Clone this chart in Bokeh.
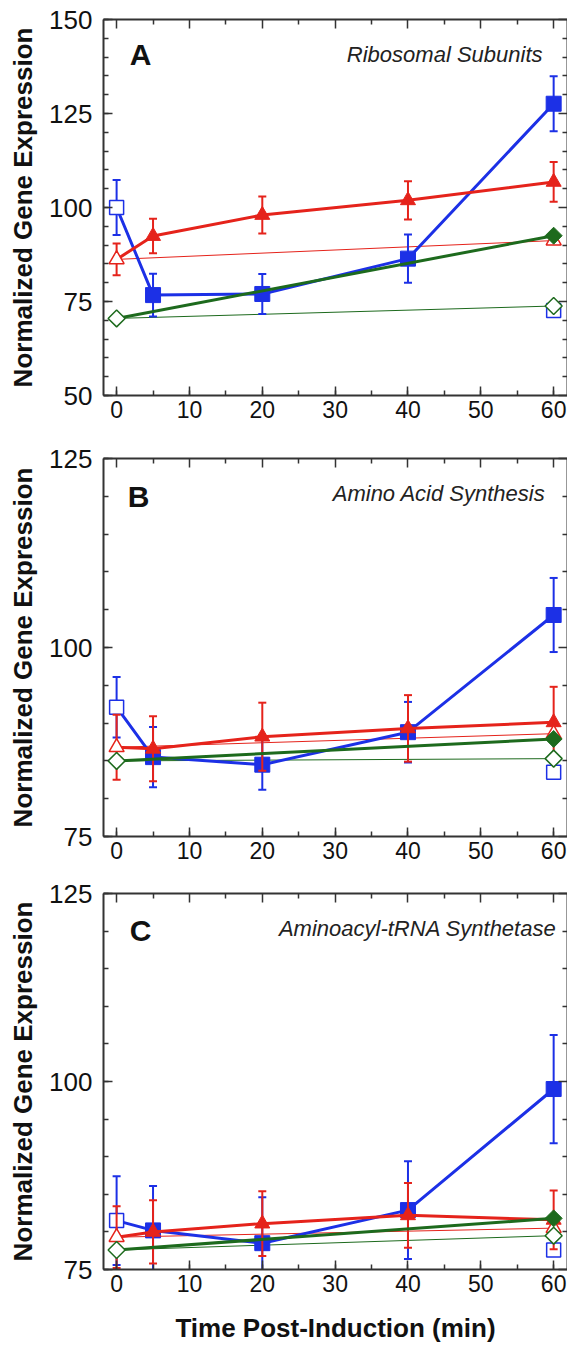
import numpy as np
from bokeh.plotting import figure
from bokeh.models import Range1d, LinearAxis, SingleIntervalTicker, FixedTicker, Label
from bokeh.layouts import column
from bokeh.embed import file_html
from bokeh.resources import INLINE

# ---------------- data ----------------
times = [0, 5, 20, 40, 60]
ctrl_times = [0, 60]

panel_ids = ["A", "B", "C"]
panel_titles = ["Ribosomal Subunits", "Amino Acid Synthesis", "Aminoacyl-tRNA Synthetase"]
y_ranges = [(50, 150), (75, 125), (75, 125)]
x_ticks = [0, 10, 20, 30, 40, 50, 60]

# induced series (filled markers, thick lines)
blue_mean = [[100.0, 76.7, 77.0, 86.4, 127.6],
             [92.1, 85.5, 84.5, 88.8, 104.3],
             [81.5, 80.2, 78.5, 82.9, 99.0]]
blue_err = [[7.3, 5.7, 5.3, 6.4, 7.3],
            [4.0, 4.0, 3.3, 4.0, 4.9],
            [5.9, 5.9, 6.1, 6.5, 7.2]]
red_mean = [[86.2, 92.4, 98.0, 101.9, 106.8],
            [86.8, 86.6, 88.2, 89.3, 90.1],
            [79.3, 80.0, 81.1, 82.2, 81.6]]
red_err = [[4.2, 4.6, 4.9, 5.1, 5.3],
           [4.3, 4.3, 4.5, 4.4, 4.7],
           [4.1, 4.2, 4.3, 4.3, 3.9]]
green_mean = [[70.5, 92.5],
              [85.0, 87.9],
              [77.6, 81.8]]

# uninduced controls (open markers at 0 and 60 min)
blue_ctrl = [[100.0, 72.6], [92.1, 83.5], [81.5, 77.6]]
red_ctrl = [[86.2, 91.2], [86.8, 88.6], [79.3, 80.5]]
green_ctrl = [[70.5, 73.8], [85.0, 85.3], [77.6, 79.5]]

# ---------------- style ----------------
BLUE = "#1c30e6"
RED = "#e5231b"
GREEN = "#1d6a1d"
AX = "#333333"
FONT = "Liberation Sans"

frame_h = [376, 378, 376]
border_top = [19, 20, 20]
border_bot = [43, 37, 78]
letter_pos = [(37, 341), (35, 340), (37, 339)]
title_pos = [(439, 341), (442, 343), (453, 341)]


def style_axis(ax):
    ax.axis_line_color = AX
    ax.axis_line_width = 2
    ax.major_tick_line_color = AX
    ax.minor_tick_line_color = AX
    ax.major_tick_line_width = 1.5
    ax.minor_tick_line_width = 1.5
    ax.major_tick_in = 9
    ax.major_tick_out = 0
    ax.minor_tick_in = 5
    ax.minor_tick_out = 0


def mirror_axes(p, side, major, minor):
    # two label-free axes: one carries the long ticks, one the short ones
    a1 = LinearAxis(ticker=FixedTicker(ticks=[], minor_ticks=list(major)))
    style_axis(a1)
    a1.minor_tick_in = 9
    a1.major_label_standoff = 0
    a2 = LinearAxis(ticker=FixedTicker(ticks=[], minor_ticks=list(minor)))
    style_axis(a2)
    a2.major_label_standoff = 0
    a2.axis_line_color = None
    p.add_layout(a1, side)
    p.add_layout(a2, side)


def make_panel(i):
    y0, y1 = y_ranges[i]
    p = figure(frame_width=464, frame_height=frame_h[i],
               x_range=Range1d(-1.8, 61.9), y_range=Range1d(y0, y1),
               output_backend="svg", toolbar_location=None,
               min_border_left=103, min_border_right=0,
               min_border_top=border_top[i], min_border_bottom=border_bot[i],
               x_axis_location=None, y_axis_location=None)
    p.outline_line_color = None
    p.grid.visible = False
    p.background_fill_color = "white"
    p.border_fill_color = "white"

    xt = SingleIntervalTicker(interval=10, num_minor_ticks=2)
    yt = SingleIntervalTicker(interval=25, num_minor_ticks=5)

    bx = LinearAxis(ticker=xt)
    style_axis(bx)
    bx.major_label_text_font = FONT
    bx.major_label_text_font_size = "23px"
    bx.major_label_text_color = "#111111"
    bx.major_label_standoff = 5
    if i == 2:
        bx.axis_label = "Time Post-Induction (min)"
        bx.axis_label_text_font = FONT
        bx.axis_label_text_font_style = "bold"
        bx.axis_label_text_font_size = "26px"
        bx.axis_label_text_color = "#111111"
        bx.axis_label_standoff = 18
    p.add_layout(bx, "below")

    ly = LinearAxis(ticker=yt)
    style_axis(ly)
    ly.major_label_text_font = FONT
    ly.major_label_text_font_size = "26px"
    ly.major_label_text_color = "#111111"
    ly.major_label_standoff = 11
    ly.axis_label = "Normalized Gene Expression"
    ly.axis_label_text_font = FONT
    ly.axis_label_text_font_style = "bold"
    ly.axis_label_text_font_size = "26px"
    ly.axis_label_text_color = "#111111"
    ly.axis_label_standoff = 8
    p.add_layout(ly, "left")

    x_major = x_ticks
    x_minor = [t + 5 for t in x_ticks[:-1]]
    y_major = list(np.arange(y0, y1 + 1, 25))
    y_minor = [v for v in np.arange(y0, y1 + 1, 5) if v not in y_major]
    mirror_axes(p, "above", x_major, x_minor)
    mirror_axes(p, "right", y_major, y_minor)

    # thin control lines
    p.line(ctrl_times, green_ctrl[i], line_color=GREEN, line_width=1)
    p.line(ctrl_times, red_ctrl[i], line_color=RED, line_width=1)

    def errbars(t, m, e, color):
        m = np.array(m); e = np.array(e)
        p.segment(x0=t, y0=m - e, x1=t, y1=m + e, line_color=color, line_width=2)
        p.scatter(x=t + t, y=list(m - e) + list(m + e), marker="dash", size=8,
                  line_color=color, line_width=2)

    # blue
    errbars(times, blue_mean[i], blue_err[i], BLUE)
    p.line(times, blue_mean[i], line_color=BLUE, line_width=3)
    p.scatter(times[1:], blue_mean[i][1:], marker="square", size=15,
              fill_color=BLUE, line_color=BLUE, line_width=1)
    p.scatter(ctrl_times, blue_ctrl[i], marker="square", size=14,
              fill_color="white", line_color=BLUE, line_width=1.5)

    # red
    errbars(times, red_mean[i], red_err[i], RED)
    p.line(times, red_mean[i], line_color=RED, line_width=3)
    p.scatter(times[1:], red_mean[i][1:], marker="triangle", size=15,
              fill_color=RED, line_color=RED, line_width=1)
    p.scatter(ctrl_times, red_ctrl[i], marker="triangle", size=15,
              fill_color="white", line_color=RED, line_width=1.5)

    # green
    p.line(ctrl_times, green_mean[i], line_color=GREEN, line_width=3)
    p.scatter(ctrl_times, green_ctrl[i], marker="square", angle=np.pi / 4, size=12,
              fill_color="white", line_color=GREEN, line_width=1.5)
    p.scatter(ctrl_times[1:], green_mean[i][1:], marker="square", angle=np.pi / 4, size=12,
              fill_color=GREEN, line_color=GREEN, line_width=1)

    lx, lyy = letter_pos[i]
    p.add_layout(Label(x=lx, y=lyy, x_units="screen", y_units="screen",
                       text=panel_ids[i], text_font=FONT, text_font_style="bold",
                       text_font_size="30px", text_align="center",
                       text_baseline="middle", text_color="#111111"))
    tx_, ty_ = title_pos[i]
    p.add_layout(Label(x=tx_, y=ty_, x_units="screen", y_units="screen",
                       text=panel_titles[i], text_font=FONT, text_font_style="italic",
                       text_font_size="22px", text_align="right",
                       text_baseline="middle", text_color="#222222"))
    return p


panels = [make_panel(i) for i in range(3)]
layout = column(*panels, spacing=0)

open("out.html", "w").write(file_html(layout, INLINE))
